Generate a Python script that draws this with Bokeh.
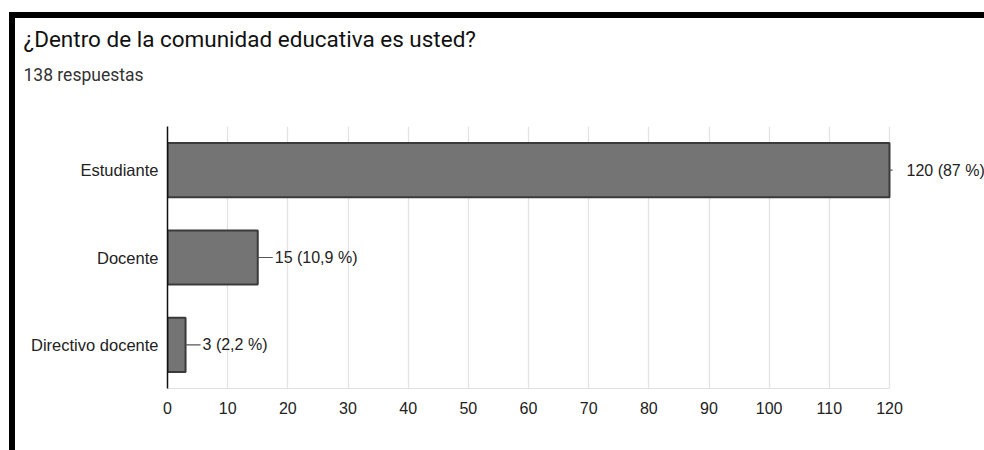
from bokeh.plotting import figure
from bokeh.models import ColumnDataSource, FactorRange, Range1d, LabelSet, Title, FixedTicker
from bokeh.core.properties import value
from bokeh.embed import file_html
from bokeh.resources import INLINE

categories = ["Estudiante", "Docente", "Directivo docente"]
counts = [120, 15, 3]
bar_labels = ["120 (87 %)", "15 (10,9 %)", "3 (2,2 %)"]
x_ticks = [0, 10, 20, 30, 40, 50, 60, 70, 80, 90, 100, 110, 120]
title_text = "¿Dentro de la comunidad educativa es usted?"
subtitle_text = "138 respuestas"

# canvas is shifted by the css margin + border (15 px right, 18 px down)
OX, OY = 15, 18
W, H = 969, 432
FL, FR, FT, FB = 167 - OX, 889 - OX, 126 - OY, 388 - OY

xmax = 120
px_per_unit = (FR - FL) / xmax
x_end = xmax + (W - FR) / px_per_unit
leader_len = 15 / px_per_unit
edge_tick = 3 / px_per_unit

src = ColumnDataSource(dict(
    cat=categories,
    count=counts,
    label=bar_labels,
    lead_end=[min(c + leader_len, xmax + edge_tick) for c in counts],
))

p = figure(width=W, height=H, output_backend="svg", toolbar_location=None,
           y_range=FactorRange(factors=list(reversed(categories)), range_padding=0),
           x_range=Range1d(0, x_end),
           title=title_text,
           min_border_left=FL, min_border_right=0,
           min_border_bottom=H - FB, min_border_top=FT)
p.frame_width = W - FL
p.frame_height = FB - FT
p.outline_line_color = None
p.background_fill_color = "white"
p.border_fill_color = "white"
p.styles = {"border-top": "6px solid black", "border-left": "6px solid black",
            "margin-top": "12px", "margin-left": "9px"}

p.title.align = "left"
p.title.offset = 23 - 167
p.title.text_font = "Roboto"
p.title.text_font_size = "22.5px"
p.title.text_font_style = "normal"
p.title.text_color = "#111111"
p.title.standoff = 11

# spacer between the subtitle and the plot area (closest to the frame)
p.add_layout(Title(text=" ", text_font_size="1px", standoff=34), "above")
p.add_layout(Title(text=subtitle_text, align="left", offset=23 - 167,
                   text_font="Roboto", text_font_size="17.5px", text_font_style="normal",
                   text_color="#333333", standoff=10), "above")

p.hbar(y="cat", right="count", left=0, height=0.62, source=src,
       fill_color="#747474", line_color="#3a3a3a", line_width=2)
p.segment(x0="count", y0="cat", x1="lead_end", y1="cat", source=src,
          line_color="#555555", line_width=1.2)

p.add_layout(LabelSet(x="count", y="cat", text="label", source=src,
                      x_offset=17, text_baseline="middle", text_align="left",
                      text_font=value("Liberation Sans"), text_font_size="16px",
                      text_color="#222222"))

# axes
p.xaxis.ticker = FixedTicker(ticks=x_ticks)
p.xaxis.bounds = (0, xmax)
p.xaxis.axis_line_color = "#e0e0e0"
p.xaxis.major_tick_line_color = None
p.xaxis.minor_tick_line_color = None
p.xaxis.major_tick_out = 0
p.xaxis.major_tick_in = 0
p.xaxis.major_label_text_font = "Liberation Sans"
p.xaxis.major_label_text_font_size = "16px"
p.xaxis.major_label_text_color = "#222222"
p.xaxis.major_label_standoff = 13

p.yaxis.axis_line_color = "#111111"
p.yaxis.axis_line_width = 1.5
p.yaxis.major_tick_line_color = None
p.yaxis.minor_tick_line_color = None
p.yaxis.major_tick_out = 0
p.yaxis.major_tick_in = 0
p.yaxis.major_label_text_font = "Liberation Sans"
p.yaxis.major_label_text_font_size = "16.5px"
p.yaxis.major_label_text_color = "#222222"
p.yaxis.major_label_standoff = 9

p.xgrid.grid_line_color = "#e3e3e3"
p.xgrid.grid_line_width = 1.3
p.ygrid.grid_line_color = None

open("out.html", "w").write(file_html(p, INLINE))
